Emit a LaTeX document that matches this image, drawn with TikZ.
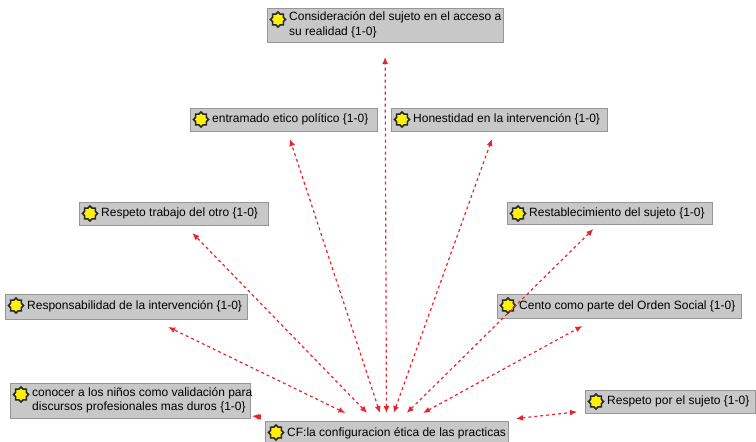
\documentclass[tikz,border=0pt]{standalone}
\usepackage{fontspec}
\setmainfont{Liberation Sans}
\usetikzlibrary{positioning}
\usetikzlibrary{arrows.meta,shapes.geometric}

\definecolor{linkred}{RGB}{235,35,45}
\definecolor{boxgray}{RGB}{200,200,200}
\definecolor{boxline}{RGB}{150,150,150}

\begin{document}
\begin{tikzpicture}[x=1pt, y=-1pt,
    concept/.style={draw=boxline, fill=boxgray, line width=0.8pt, inner sep=0pt},
    codeicon/.style={star, star points=8, star point ratio=1.3, minimum size=15pt, inner sep=0pt, fill=yellow, draw=black!85, line width=1.6pt},
    cname/.style={inner sep=0pt, align=left, font=\fontsize{12}{14.5}\selectfont},
    link/.style={<->, >={Latex[length=7pt,width=6pt]}, linkred, line width=1.2pt, dash pattern=on 3pt off 3pt}]

  \useasboundingbox (0,0) rectangle (756,442);

  \def\ix{11};
  \def\iy{11.5};
  \def\tx{22};

  % boxes: name/left/top/width/height/gap/text
  \foreach \name/\x/\y/\w/\h/\os/\txt in {
      cons/267/8/236/34/15/{Consideración del sujeto en el acceso a\\su realidad \{1-0\}},
      ent/190/108/187/23/8/{entramado etico político \{1-0\}},
      hon/391/108/216/23/8/{Honestidad en la intervención \{1-0\}},
      rtra/79/202/189/23/8/{Respeto trabajo del otro \{1-0\}},
      rest/507/202/205/22/5/{Restablecimiento del sujeto \{1-0\}},
      resp/5/294/242/25/8/{Responsabilidad de la intervención \{1-0\}},
      cento/497/294/244/24/8/{Cento como parte del Orden Social \{1-0\}},
      cono/10/383/240/35/4/{conocer a los niños como validación para\\discursos profesionales mas duros \{1-0\}},
      cf/265/421/243/24/8/{CF:la configuracion ética de las practicas},
      rsuj/585/390/170/23/8/{Respeto por el sujeto \{1-0\}}}{
    \node[concept, minimum width=\w pt, minimum height=\h pt, outer sep=\os pt] (\name) at ({\x+\w/2},{\y+\h/2}) {};
    \node[codeicon] (\name-icon) at ({\x+\ix},{\y+\iy}) {};
    \node[cname, anchor=west] (\name-text) at ({\x+\tx},{\y+\h/2}) {\txt};
  }

  \foreach \n/\sh in {cons/0,ent/0,hon/0,rtra/0,rest/0,resp/0,cento/0,cono/-5,rsuj/0}
    \draw[link, shorten <=\sh pt] (cf) -- (\n);

\end{tikzpicture}
\end{document}
